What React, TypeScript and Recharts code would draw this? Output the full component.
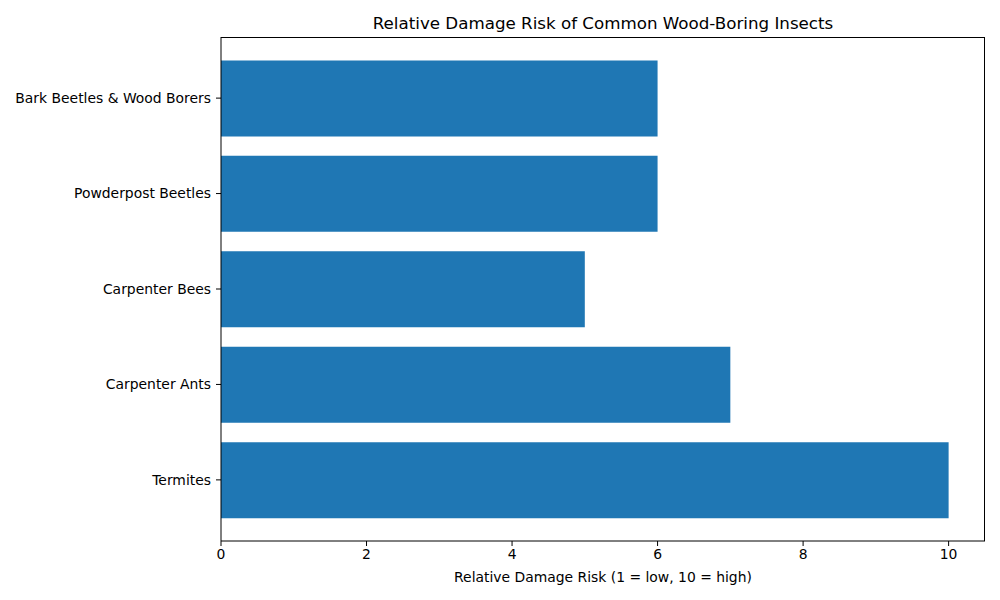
import React from "react";
import { BarChart, Bar, XAxis, YAxis } from "recharts";

const categories = [
  "Bark Beetles & Wood Borers",
  "Powderpost Beetles",
  "Carpenter Bees",
  "Carpenter Ants",
  "Termites",
];
const riskValues = [6, 6, 5, 7, 10];
const xTicks = [0, 2, 4, 6, 8, 10];

const data = categories.map((name, i) => ({ name, risk: riskValues[i] }));

const font = "'DejaVu Sans', sans-serif";
const tickStyle = { fill: "#000000", fontSize: 13.9, fontFamily: font };

const App = () => {
  return (
    <div style={{ position: "absolute", left: 0, top: 0, width: 1000, height: 600, background: "#fff" }}>
      <div
        style={{
          position: "absolute",
          left: 221,
          width: 764,
          top: 13,
          textAlign: "center",
          fontFamily: font,
          fontSize: 16.7,
          lineHeight: "20px",
          color: "#000",
        }}
      >
        Relative Damage Risk of Common Wood-Boring Insects
      </div>
      <div
        style={{
          position: "absolute",
          left: 221,
          width: 764,
          top: 568,
          textAlign: "center",
          fontFamily: font,
          fontSize: 13.9,
          lineHeight: "18px",
          color: "#000",
        }}
      >
        Relative Damage Risk (1 = low, 10 = high)
      </div>
      <BarChart
        width={1000}
        height={600}
        data={data}
        layout="vertical"
        margin={{ top: 37, right: 15, left: 8, bottom: 0 }}
      >
        <XAxis
          type="number"
          dataKey="risk"
          domain={[0, 10.5]}
          ticks={xTicks}
          allowDataOverflow
          height={59}
          tickSize={5}
          tickMargin={3}
          axisLine={{ stroke: "#000" }}
          tickLine={{ stroke: "#000" }}
          tick={tickStyle}
        />
        <YAxis
          type="category"
          dataKey="name"
          width={213}
          padding={{ top: 13.4, bottom: 13.4 }}
          tickSize={5}
          tickMargin={5}
          axisLine={{ stroke: "#000" }}
          tickLine={{ stroke: "#000" }}
          tick={tickStyle}
          interval={0}
        />
        <Bar dataKey="risk" fill="#1f77b4" barSize={76} isAnimationActive={false} />
      </BarChart>
      {/* top and right spines */}
      <div
        style={{
          position: "absolute",
          left: 221,
          top: 37,
          width: 764,
          height: 504,
          borderTop: "1px solid #000",
          borderRight: "1px solid #000",
          boxSizing: "border-box",
          pointerEvents: "none",
        }}
      />
    </div>
  );
};

export default App;
